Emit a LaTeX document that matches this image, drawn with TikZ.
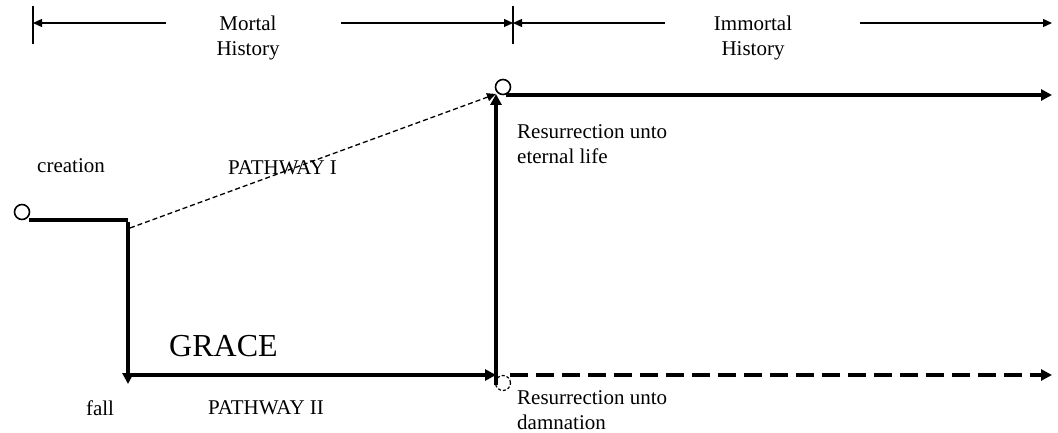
\documentclass[tikz,border=0pt]{standalone}
\usepackage{fontspec}
\setmainfont{Liberation Serif}
\usetikzlibrary{arrows.meta}
\begin{document}
\begin{tikzpicture}[x=1pt,y=-1pt,
  txt/.style={inner sep=0pt, font=\fontsize{21}{25}\selectfont},
  thickline/.style={line width=4.8pt, -{Triangle[length=11pt,width=11pt]}},
  thickplain/.style={line width=4.8pt},
  thinarrow/.style={line width=1.3pt, -{Triangle[length=9pt,width=8pt]}},
  dimtick/.style={line width=1.8pt},
  ring/.style={circle, draw, line width=1.6pt, minimum size=15pt, inner sep=0pt}]
\useasboundingbox (0,0) rectangle (1058,433);
% dimension bar
\coordinate (t0a) at (33,6); \coordinate (t0b) at (33,44);
\coordinate (t1a) at (513,6); \coordinate (t1b) at (513,44);
\draw[dimtick] (t0a) -- (t0b);
\draw[dimtick] (t1a) -- (t1b);
\node[txt, align=center] (mortal) at (248,38) {Mortal\\History};
\node[txt, align=center] (immortal) at (753,38) {Immortal\\History};
\coordinate (m0) at (33,23); \coordinate (m1) at (166,23);
\coordinate (m2) at (341,23); \coordinate (m3) at (513,23);
\coordinate (i1) at (665,23); \coordinate (i2) at (860,23); \coordinate (i3) at (1052,23);
\draw[thinarrow] (m1) -- (m0);
\draw[thinarrow] (m2) -- (m3);
\draw[thinarrow] (i1) -- (m3);
\draw[thinarrow] (i2) -- (i3);
% circles
\node[ring] (start) at (22,212) {};
\node[ring] (top) at (503,87) {};
\node[ring, dashed, line width=1.2pt, dash pattern=on 3pt off 2pt] (bot) at (503,383) {};
% main path
\coordinate (s1) at (29,220);
\coordinate (corner) at (128,220);
\coordinate (fallpt) at (128,384);
\coordinate (g0) at (130,375);
\coordinate (g1) at (496,375);
\coordinate (vbot) at (496,385);
\coordinate (vtop) at (496,94);
\coordinate (d0) at (130,228);
\coordinate (e0) at (506,95);
\coordinate (e1) at (1052,95);
\coordinate (f0) at (510,375);
\coordinate (f1) at (1052,375);
\draw[thickplain] (s1) -- (corner);
\draw[thickline] ([yshift=-2.4pt]corner) -- (fallpt);
\draw[thickline] (g0) -- (g1);
\draw[thickline] (vbot) -- (vtop);
\draw[line width=1.3pt, dash pattern=on 5pt off 3pt, -{Triangle[length=9pt,width=8pt]}] (d0) -- (vtop);
\draw[thickline] (e0) -- (e1);
\draw[thickline, dash pattern=on 18pt off 8pt] (f0) -- (f1);
% labels
\node[txt, anchor=west] (creation) at (37,166) {creation};
\node[txt, anchor=west] (p1) at (228,168) {PATHWAY I};
\node[txt, anchor=west, align=left] (res1) at (517,144) {Resurrection unto\\eternal life};
\node[inner sep=0pt, anchor=west, font=\fontsize{32}{38}\selectfont] (grace) at (169,346) {GRACE};
\node[txt] (fall) at (100,408) {fall};
\node[txt, anchor=west] (p2) at (208,408) {PATHWAY II};
\node[txt, anchor=west, align=left] (res2) at (517,410) {Resurrection unto\\damnation};
\end{tikzpicture}
\end{document}
